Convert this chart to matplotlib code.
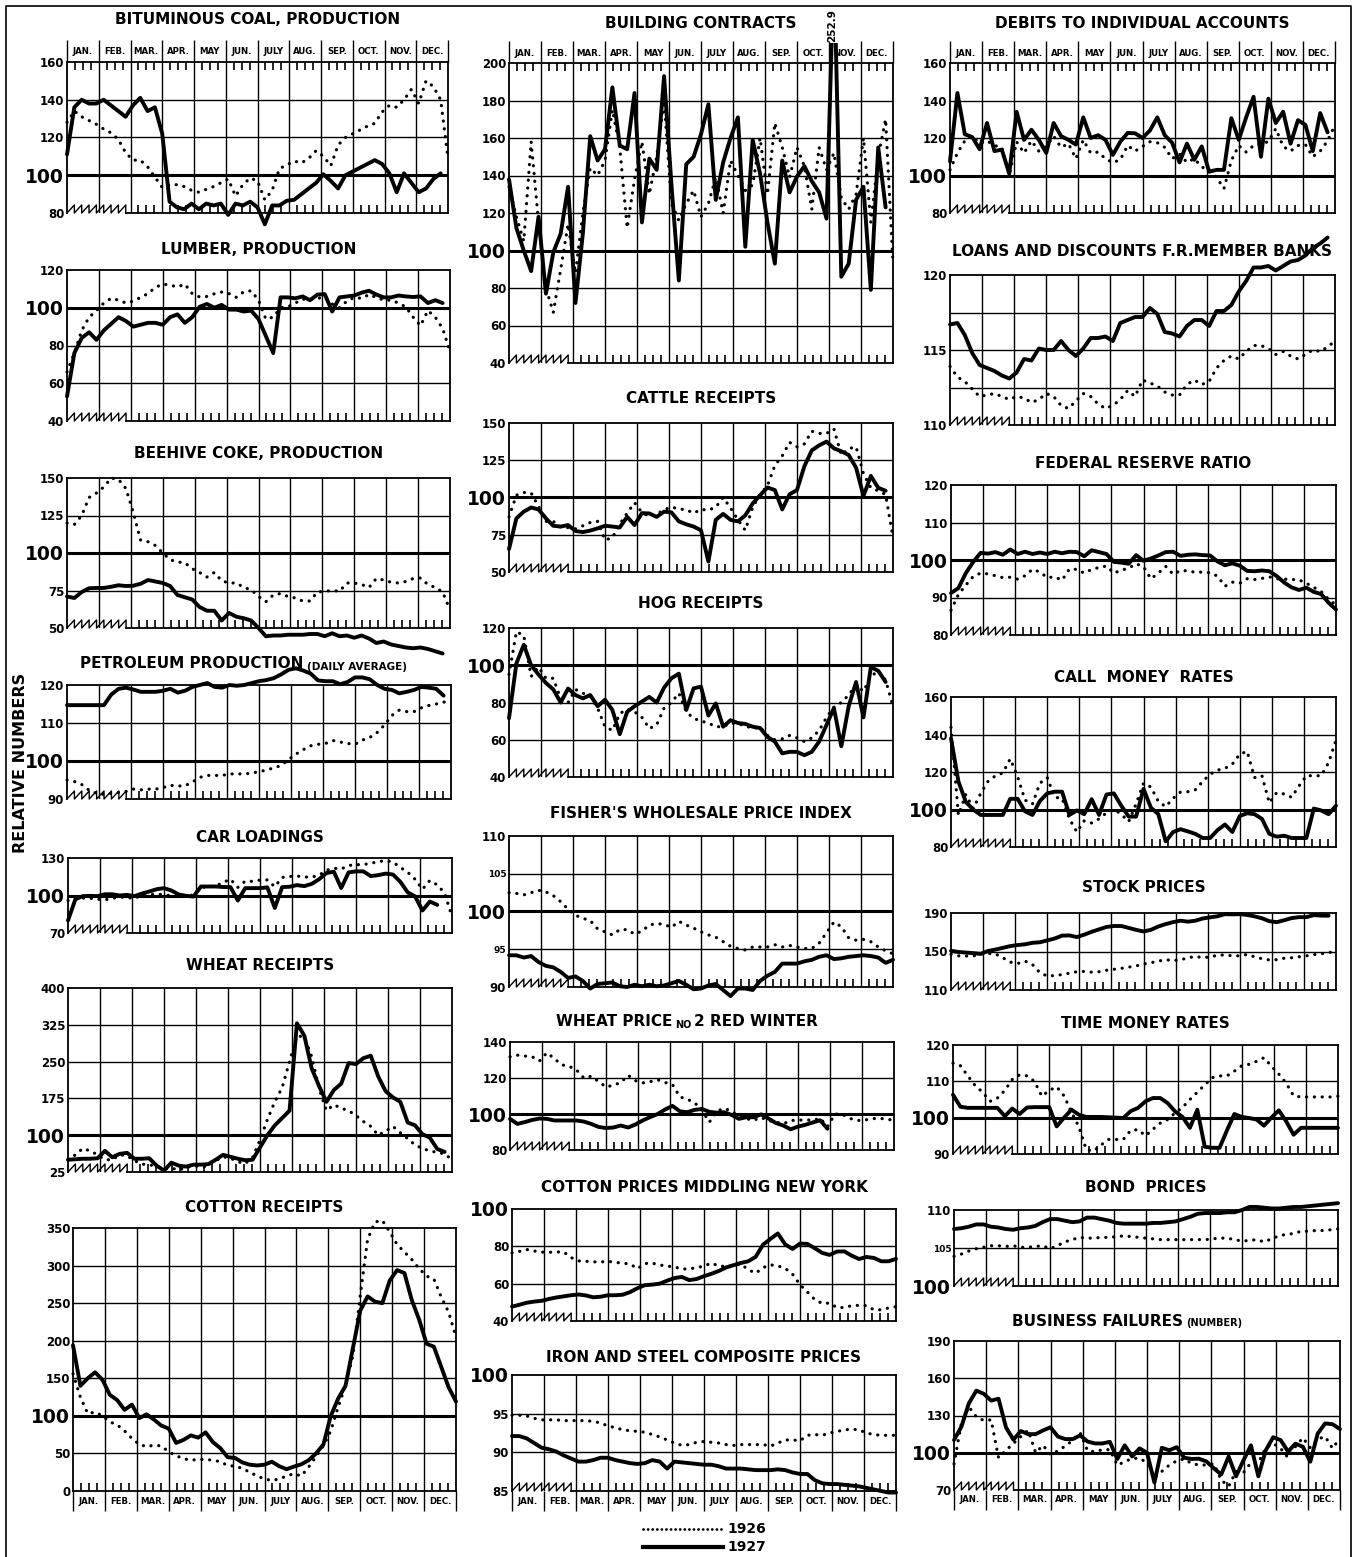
import numpy as np
import matplotlib
matplotlib.use('Agg')
import matplotlib.pyplot as plt
from matplotlib.transforms import Bbox, TransformedBbox

plt.rcParams['font.family'] = 'DejaVu Sans'
plt.rcParams['font.weight'] = 'bold'

W, H = 1359, 1557

months = ['JAN.', 'FEB.', 'MAR.', 'APR.', 'MAY', 'JUN.', 'JULY', 'AUG.', 'SEP.', 'OCT.', 'NOV.', 'DEC.']

# weekly relative numbers (1926 dotted, 1927 solid)
coal_1926 = [128, 134, 131, 129, 127, 124.5, 122.5, 119, 112, 108, 108, 104.5, 99, 93.5, 95, 95, 94, 92, 91, 92.5,
             94, 96, 98, 89, 95, 98.5, 97, 87, 92, 103.5, 105.5, 107.5, 106.5, 109, 113, 110, 105, 116, 120, 122,
             124, 126, 127.5, 133.5, 137, 136, 140, 145.5, 138, 150, 147, 140, 109]
coal_1927 = [111, 136, 140, 138, 138, 140, 137, 134, 131, 137, 141, 134, 136, 122, 86, 83, 82, 85, 82, 85,
             84, 85, 79, 85, 84, 86, 83, 74, 84, 84, 86.5, 87, 90, 93, 96, 100.5, 97, 93, 100, 102,
             104, 106, 108, 106, 101, 91, 101, 96, 91, 93, 98, 101]
lumber_1926 = [66, 76, 88, 95, 98.5, 102.5, 105, 104, 102.5, 103.5, 105.5, 107.5, 110.8, 112.5, 112, 111, 112.5,
               107.5, 105.7, 106, 107.4, 108.3, 107.5, 105.5, 108.5, 109, 104, 94, 95, 100, 100.5, 102.5, 104.5,
               104.5, 105, 105.5, 102, 100, 103.5, 105.5, 105, 107, 105.5, 104, 104, 102.5, 100.4, 95, 90.5,
               98.5, 95, 89, 77]
lumber_1927 = [53, 76, 84, 87, 83, 88, 91.5, 95, 93, 90, 91, 92, 92, 91, 95, 96.5, 92, 95, 100.5, 102,
               100, 101.5, 99, 99, 98, 98.5, 94, 85, 76, 105.5, 105.5, 105, 106, 104, 107, 107.2, 98, 105.5,
               106, 106.5, 108, 109, 107, 105.5, 105.5, 106.5, 106, 105.7, 106, 102.5, 104, 102.5]
coke_1926 = [120, 119, 125, 137, 140, 144, 150, 149, 143, 127, 108.5, 107.5, 105, 100, 95.5, 94, 93.5, 89.5, 87, 84,
             87, 81.5, 80, 80, 77, 75.5, 71, 67.5, 72, 73, 71, 70, 68, 68, 74, 74.5, 75, 74.5, 80, 80,
             79, 77, 83, 82, 80.5, 80, 81, 83, 83.3, 79, 77, 74, 62]
coke_1927 = [71, 70, 74, 76.5, 76.7, 76.7, 77.5, 78.5, 78, 78.2, 79.5, 82, 81, 80, 78, 72, 70.5, 69, 64, 61.5,
             61.5, 55, 60, 57.5, 56.5, 55, 50, 44.5, 45, 45, 45.5, 45.5, 45.5, 46, 46, 44.5, 46.5, 44.5, 45, 43.5,
             45, 43, 40, 41, 39, 38, 37, 36.5, 37, 36, 34.5, 33]
petro_1926 = [95, 94.6, 93.8, 92.3, 91.5, 91.2, 91.5, 91.7, 92, 92.6, 92.4, 92.6, 92.6, 93, 93.6, 93.4, 93.5, 94.5,
              95.7, 96.2, 96.2, 96.2, 96.6, 96.6, 96.6, 96.8, 97.2, 97.6, 98.2, 98.8, 100.4, 101.8, 103, 104, 104.4,
              104.6, 105.4, 105, 104.6, 104.4, 105.5, 106.2, 107.5, 109.5, 112, 113.4, 113, 113, 114, 114.6, 115,
              115.5, 115.6]
petro_1927 = [114.7, 114.7, 114.7, 114.7, 114.7, 114.7, 117.5, 119, 119.3, 118.8, 118.2, 118.2, 118.2, 118.5, 119,
              118, 118.5, 119.5, 120, 120.5, 119.5, 119.3, 120, 119.8, 120, 120.5, 121, 121.3, 121.8, 122.8, 124,
              124.4, 123.8, 123, 121.2, 121, 121, 120.2, 120.8, 122, 122, 121.5, 120, 119, 118.7, 117.8, 118.2,
              118.7, 119.5, 119.3, 119, 117.2]
car_1926 = [96, 97.5, 97.9, 97.8, 97, 96.5, 97.8, 98.7, 98.5, 97.5, 100.5, 100.5, 101.2, 100.6, 99.8, 99.7, 99.2,
            100.5, 106.2, 107.2, 107.5, 110.5, 113, 106.5, 111.5, 111.3, 112.3, 112.5, 107, 114.5, 115.2, 115.6,
            114.8, 114.7, 116.2, 120.2, 121.8, 121.2, 124, 124.7, 124.7, 125.8, 127, 128, 126.8, 122.5, 118.6, 113,
            105, 112, 108.5, 102, 83]
car_1927 = [80, 97, 99.5, 99.7, 99.5, 101, 101, 100, 100.5, 99.5, 101.5, 103.2, 105, 105.9, 104, 100.8, 99.7, 99.2,
            107.2, 107.2, 107.2, 106.8, 106.7, 96, 105.9, 105.9, 105.9, 106.5, 90, 106.7, 107, 108.3, 107.5, 109.3,
            113, 118, 119, 106, 118.5, 119.3, 119.3, 115.5, 116.3, 117.5, 116.8, 111, 102.5, 99.3, 88, 95.2, 92.5]
wheat_1926 = [50, 60, 73, 68, 60, 50, 50, 60, 58, 48, 41, 40, 36, 31, 33, 29, 34, 38, 35, 37, 48, 56, 53, 46, 42, 55,
              90, 132, 168, 197, 250, 303, 300, 260, 195, 150, 162, 155, 150, 140, 128, 118, 100, 108, 118, 105, 93,
              80, 73, 68, 65, 62, 50]
wheat_1927 = [50, 51, 52, 52, 53, 68, 55, 62, 64, 52, 52, 53, 38, 28, 44, 38, 36, 40, 40, 41, 50, 60, 56, 52, 49, 50,
              75, 100, 120, 135, 150, 328, 303, 236, 200, 168, 192, 205, 247, 245, 257, 262, 220, 190, 177, 168, 126,
              120, 102, 95, 72, 66]
cotton_1926 = [156, 125, 103, 105, 100, 92, 88, 80, 70, 62, 59, 61, 60, 52, 47, 43, 41, 42, 42, 41, 39, 34, 33, 30,
               25, 20, 16, 14, 16, 20, 23, 20, 32, 46, 60, 80, 112, 140, 180, 260, 335, 358, 360, 345, 328, 318, 308,
               296, 286, 282, 258, 238, 205]
cotton_1927 = [194, 140, 150, 158, 148, 128, 121, 108, 115, 97, 102, 95, 87, 83, 64, 68, 74, 71, 78, 65, 57, 45, 44,
               38, 35, 34, 35, 39, 33, 29, 32.5, 35.5, 41, 50, 62, 100, 123, 140, 190, 240, 259, 252, 250, 280, 294,
               290, 254, 228, 196, 192, 165, 138, 119]
build_1926 = [134, 118, 105, 158, 115, 80, 67, 90, 114, 88, 120, 144, 140, 148, 175, 155, 112, 138, 158, 130, 150,
              180, 125, 116, 125, 132, 118, 125, 139, 120, 148, 140, 132, 135, 160, 130, 168, 155, 139, 155, 145, 122,
              155, 143, 152, 128, 122, 130, 160, 115, 150, 170, 93]
build_1927 = [138, 112, 100, 89, 118, 77, 99, 109, 134, 72, 109, 161, 148, 154, 187, 156, 154, 184, 115, 149, 143,
              193, 135, 84, 146, 150, 162, 178, 127, 147, 160, 171, 102, 159, 141, 115, 93, 148, 131, 139.5, 145, 137,
              131, 117, 252.9, 86, 93, 127, 134, 79, 155, 123]
cattle_1926 = [87, 101.5, 103.4, 103, 94, 84, 84, 80, 79.8, 79, 81, 83.2, 84, 71.5, 73, 82.2, 89.5, 96.5, 90, 87.2,
               88.8, 91.8, 93.6, 92.3, 91.8, 89.5, 92, 91.5, 93.5, 100, 93, 85, 78, 93.5, 102, 108, 121.5, 128, 137,
               134, 136, 144.5, 143, 143, 146, 128.5, 132.8, 134, 116, 106.5, 104.5, 102, 73]
cattle_1927 = [65.4, 86, 90.5, 93.3, 92, 86, 81, 80.5, 81.5, 77.5, 76.8, 77.8, 79.3, 81, 80.5, 79.9, 87, 81.5, 89.5,
               89.3, 87, 90.5, 90, 84, 82, 80.5, 78, 57, 85, 89, 85, 84, 88, 96, 101.5, 106.7, 105, 92, 102.2, 105,
               121, 131.6, 135, 137.5, 133, 131, 128.5, 120, 101, 114.5, 106.5, 104.5]
hog_1926 = [95, 118, 116, 94, 99, 93, 93, 82, 80, 87, 85, 83.3, 77, 67, 65, 74, 76.5, 75, 72, 66, 68, 77, 80, 85, 75,
            71.5, 70, 69, 67, 67, 69, 68.5, 67.5, 66, 66.8, 62.3, 60, 60.5, 62.3, 61, 59, 61, 65, 72, 77.5, 80, 84,
            89.5, 86, 94, 97, 92, 78]
hog_1927 = [71.5, 101, 111, 100, 95, 90.5, 87, 80, 87.5, 84, 82.2, 84, 78, 81.5, 76, 63, 75, 78, 80.5, 83, 80, 88, 93,
            95.5, 76, 87.6, 88.5, 73, 79.5, 67, 70.5, 69, 68.5, 67, 66.3, 61.5, 59, 52.7, 53.5, 53.5, 51.7, 53.5, 59,
            68, 77, 56.5, 78, 91, 72, 99, 97, 91]
fisher_1926 = [102.5, 102.4, 102.2, 102.5, 102.8, 102.6, 102.1, 101.3, 100.3, 99.5, 99.1, 98.8, 97.7, 97.3, 96.9,
               97.6, 97.6, 97, 97.4, 98.2, 98.4, 98.3, 97.9, 98.7, 98.2, 97.8, 97.3, 96.9, 96.6, 96, 95.4, 95.1, 94.9,
               95.3, 95.3, 95.3, 95.6, 95.3, 95.5, 95.3, 95.1, 95.1, 95.8, 97.2, 98.6, 98, 96.5, 96.2, 96.3, 96, 95.3,
               94.8, 94.4]
fisher_1927 = [94.2, 94.2, 93.9, 94.1, 93.3, 92.8, 92.6, 92, 91.2, 91.4, 90.8, 89.8, 90.4, 90.5, 90.6, 90.1, 90, 90.3,
               90.1, 90.3, 90.1, 90.2, 90.5, 90.8, 90.3, 89.7, 89.8, 90.2, 90.4, 89.6, 88.8, 89.8, 89.8, 89.6, 90.8,
               91.5, 92, 93.1, 93.1, 93.1, 93.4, 93.6, 94, 94.2, 93.7, 93.8, 94, 94.1, 94.2, 94.1, 93.9, 93.2, 93.6]
wheatp_1926 = [131.8, 132.7, 132.2, 131.8, 129.5, 134, 130.8, 127.3, 126.5, 124.5, 120, 121, 118, 115, 116, 117.5,
               121.5, 118.5, 117.3, 118, 119, 117.5, 116.4, 109.5, 108.2, 106.3, 102, 95.5, 101.5, 103.2, 101.5, 98.8,
               97.4, 96.5, 98.1, 96.3, 95.5, 94.5, 96.4, 96.5, 96.8, 96.5, 97.6, 93, 100, 99.8, 97.6, 96.4, 96.6,
               97.4, 97.6, 97.2, 96.4]
wheatp_1927 = [97.3, 94.5, 95.5, 96.7, 97.5, 97.3, 96.4, 96.4, 96.4, 96.4, 95.8, 94.5, 92.8, 92.2, 92.5, 93.6, 92.5,
               94.2, 96.5, 98.3, 100, 102.5, 104.5, 101.5, 101, 102.3, 102.8, 101.2, 100.7, 101, 99.5, 97.3, 98.2,
               98.2, 99.8, 97.5, 95, 93.6, 91.5, 93, 94, 95.3, 96.5, 91.8]
cottonp_1926 = [76.5, 77.3, 78.3, 77.5, 76.9, 76.8, 77, 77, 74, 72.2, 72, 71.7, 71.6, 72, 71.4, 71, 70.5, 68, 70.8,
                71, 70, 69.4, 69, 67.8, 68, 68.5, 69.5, 71, 69.5, 69.2, 69.7, 70.5, 67.5, 65.6, 68.6, 70.1, 69.5,
                68.2, 65, 59.5, 55.5, 51.5, 49.4, 49.6, 47.2, 47.2, 48.2, 48.4, 48.2, 46, 46, 47, 47.7]
cottonp_1927 = [47.7, 48.7, 49.8, 50.4, 50.8, 51.8, 52.6, 53.2, 53.8, 54.2, 53.7, 52.7, 53, 53.8, 53.8, 54.1, 55.5,
                57.6, 59.2, 59.5, 60, 61.6, 63, 63.6, 61.9, 62.5, 64, 65.3, 66.8, 68.7, 69.9, 71.1, 72, 74.4, 80.9,
                84, 86.9, 81, 78.6, 81.5, 81.3, 79, 76.5, 75.4, 77.2, 77.3, 75, 73.2, 74.3, 73.8, 72, 72, 73.3]
iron_1926 = [94.8, 94.8, 94.7, 94.4, 94.2, 94.2, 94.2, 94.1, 94.1, 94.1, 94.1, 94, 93.8, 93.4, 93.2, 92.9, 92.8, 92.7,
             92.6, 92.3, 92, 91.6, 91.2, 90.9, 91, 91.3, 91.4, 91.3, 91.2, 91, 90.9, 91, 91, 91, 91, 90.8, 91.2, 91.6,
             91.6, 91.5, 92.2, 92.3, 92.2, 92.5, 92.7, 92.9, 93, 92.9, 92.5, 92.3, 92.2, 92.2, 92.2]
iron_1927 = [92.1, 92.1, 91.8, 91.2, 90.6, 90.4, 90.1, 89.6, 89.2, 88.8, 88.8, 89, 89.3, 89.3, 89, 88.8, 88.6, 88.5,
             88.6, 89, 88.8, 87.9, 88.8, 88.7, 88.6, 88.5, 88.4, 88.4, 88.2, 87.9, 87.9, 87.9, 87.8, 87.7, 87.7, 87.7,
             87.8, 87.7, 87.4, 87.2, 87.2, 86.4, 86, 85.9, 85.9, 85.8, 85.7, 85.6, 85.4, 85.2, 85, 84.8, 84.8]
debits_1926 = [103, 112, 118.5, 121, 117, 118.5, 116, 115, 100, 118, 112, 118.5, 113, 115.5, 121, 115, 117, 109, 119,
               112, 112.5, 109, 106.8, 108.5, 116, 113, 115.5, 118, 117.5, 115, 109, 111.5, 107, 109, 104.5, 103, 99,
               93, 108, 116, 112.5, 116, 117, 118, 125, 115.5, 113, 116, 116.5, 110, 113, 118.5, 127]
debits_1927 = [107.5, 144, 122, 120.5, 114, 128, 113, 113.8, 101, 134, 119, 124.4, 119, 112, 128, 121, 119, 116.5,
               131, 120, 121.5, 119, 111, 118, 122.7, 122.5, 120, 124, 131, 121.5, 117.5, 107, 117, 108.4, 115.5, 102,
               103, 103, 130.6, 119, 131, 142, 110, 141, 128, 134, 117, 129.5, 127, 113, 133.3, 123]
loans_1926 = [113.9, 113.2, 112.9, 112.4, 111.9, 112, 112.1, 111.9, 111.7, 111.9, 111.8, 111.5, 111.7, 112.1, 111.9,
              111.3, 111.1, 111.6, 112.1, 111.9, 111.4, 111.1, 111.3, 111.7, 112.3, 111.9, 113, 112.8, 112.6, 112.2,
              112, 112, 112.7, 113, 112.7, 112.9, 113.8, 114.3, 114.6, 114.4, 114.9, 115.3, 115.3, 115.1, 114.7,
              114.9, 114.6, 114.4, 114.7, 115, 114.9, 115.2, 115.6]
loans_1927 = [116.7, 116.8, 116, 114.8, 114, 113.8, 113.6, 113.3, 113.1, 113.5, 114.4, 114.3, 115.1, 115, 115, 115.6,
              115, 114.6, 115.1, 115.8, 115.8, 115.9, 115.6, 116.8, 117, 117.2, 117.2, 117.8, 117.4, 116.2, 116.1,
              115.9, 116.6, 117, 117, 116.6, 117.6, 117.6, 118, 118.9, 119.6, 120.5, 120.5, 120.6, 120.3, 120.6,
              120.9, 121, 121.3, 121.8, 122.1, 122.5]
frr_1926 = [86.6, 90.8, 93.3, 95.6, 96.5, 96.3, 95.8, 95.3, 95.4, 94.9, 95.8, 97.5, 96.8, 95.3, 95.5, 94.6, 97.6, 97.5,
            96.5, 97.5, 98, 98.4, 96.5, 97.3, 97.8, 99, 98.2, 95, 96.5, 98.3, 96.2, 97.2, 97.1, 96.7, 96.8, 96.6, 95.7,
            93, 94.1, 93.8, 95, 94.8, 95.1, 95.5, 95, 94.9, 94.8, 94.7, 93.8, 92.7, 91.6, 89.5, 88]
frr_1927 = [91.2, 92.5, 96.5, 99.5, 101.9, 101.7, 102.1, 101.4, 102.8, 101.6, 102.2, 101.6, 102, 101.6, 102.2, 101.8,
            102.2, 102.1, 101, 102.6, 102.1, 101.6, 99.5, 99.3, 99, 101.3, 99.8, 100.4, 101.2, 102.1, 102.2, 101.1,
            101.4, 101.5, 101.3, 101.2, 99.6, 98.6, 99.1, 98.5, 97.1, 97, 97.2, 97, 95.7, 94, 92.7, 92, 92.6, 91.5,
            90.9, 88.6, 86.8]
call_1926 = [143.8, 97, 108, 100.5, 108.5, 115, 118, 119.5, 127, 117.5, 105, 102.9, 114, 117, 106.5, 106, 95, 88, 94,
             92.8, 95, 98.2, 100, 97.5, 93.5, 103, 114, 112, 104.3, 101.5, 106, 109.3, 109.5, 110.5, 115, 118.8, 121,
             121.9, 124.2, 129.5, 131, 117, 118, 103.5, 109, 108.3, 106.5, 112.5, 118, 118, 118, 125, 137]
call_1927 = [138, 115, 104, 100, 97.1, 97.1, 97.1, 97.1, 105.7, 105.7, 99, 97.1, 104.5, 108.6, 109.5, 109.5, 97.1,
             99.5, 97.5, 105.5, 97.1, 108, 108.6, 102, 96.2, 96.2, 111, 101, 97.5, 83, 88, 89.5, 88.3, 87, 84.8,
             84.8, 89, 92, 88, 96.5, 98, 97.5, 95, 87, 85.5, 86, 84.8, 84.8, 84.8, 100.5, 99.5, 97.5, 102]
stock_1926 = [147.1, 145.5, 145.3, 145.3, 147.5, 148, 147.5, 143.5, 139, 137.5, 140, 136.5, 128, 124.5, 125, 126,
              127.5, 129, 129.3, 128.5, 129, 130.5, 131.5, 132.5, 133.8, 135, 137, 138.3, 140, 141.5, 140.5, 141.5,
              143.3, 145, 143.5, 144.5, 146, 146.5, 145.5, 145.5, 147, 144.5, 142.5, 141.2, 141.5, 143, 143.5,
              144.5, 145.5, 146.7, 147.7, 148.8, 150.5]
stock_1927 = [150.7, 149.5, 148.9, 148.3, 147.5, 150.5, 152, 153.8, 155.6, 156.7, 157.5, 159, 159.6, 161.5, 163.5,
              166.5, 166.7, 165, 167.5, 170.5, 173, 175.5, 176.5, 176.5, 174.5, 172.5, 170.8, 172.5, 176, 178.5,
              180.5, 182, 181, 182, 184.3, 185.5, 186.6, 188.8, 188.6, 188.8, 188, 186.5, 184.5, 181.5, 180.5,
              182.5, 184.7, 185.7, 185.7, 187.8, 187.3, 187.2]
time_1926 = [115, 114.3, 111.5, 108.8, 107, 104.5, 105.4, 107.5, 110.5, 111.8, 111.5, 110, 105.9, 107.5, 108.5, 106,
             101.5, 97.5, 91.2, 90.8, 92.5, 94, 94, 94, 96.5, 96.7, 95, 96.8, 98.5, 99.5, 101.3, 102.8, 105, 107, 109,
             111, 111.5, 111.5, 112.8, 114.3, 114.7, 115.5, 116.5, 114.2, 112, 109.5, 106, 105.7, 105.7, 105.7,
             105.7, 105.7, 105.9]
time_1927 = [106.3, 103, 102.7, 102.7, 102.7, 102.7, 102.7, 100.4, 102.5, 101, 102.8, 102.9, 102.9, 102.9, 97.6, 100,
             102.2, 100.8, 100.2, 100.2, 100.2, 100.1, 100, 99.9, 101.8, 102.7, 104.5, 105.4, 105.4, 104, 101.7,
             100.2, 97.2, 102.2, 92, 91.7, 91.7, 96.5, 101, 100.2, 99.9, 99.5, 97.8, 100, 102, 99, 95.3, 97.2, 97.2,
             97.2, 97.2, 97.2, 97.2]
bond_1926 = [103.9, 104.2, 104.6, 104.9, 105.1, 105.3, 105.3, 105.2, 105.3, 105.1, 105.1, 105.2, 105.3, 104.9, 105.3,
             105.8, 106.1, 106.4, 106.3, 106.3, 106.4, 106.4, 106.5, 106.6, 106.5, 106.4, 106.3, 106.2, 106.1, 106.1,
             106.1, 106.1, 106.1, 106.1, 106.1, 106.2, 106.3, 106.3, 106.1, 105.9, 106, 106.1, 105.8, 106.2, 106.6,
             106.8, 106.9, 107.2, 107.2, 107.3, 107.3, 107.4, 107.5]
bond_1927 = [107.5, 107.6, 107.8, 108.1, 108.1, 107.8, 107.7, 107.5, 107.4, 107.6, 107.7, 107.9, 108.4, 108.8, 108.8,
             108.6, 108.4, 108.5, 109, 109, 108.8, 108.6, 108.3, 108.2, 108.2, 108.2, 108.2, 108.3, 108.3, 108.4,
             108.5, 108.8, 109.1, 109.5, 109.6, 109.6, 109.6, 109.7, 109.7, 110, 110.4, 110.4, 110.3, 110.2, 110.2,
             110.3, 110.4, 110.4, 110.5, 110.6, 110.7, 110.8, 110.9]
fail_1926 = [91, 124, 137, 129, 126, 126.5, 96, 102, 107.5, 113, 118, 100, 106, 98.5, 101.5, 105.5, 110, 116, 101.5,
             100.8, 102.5, 102.5, 90, 92.8, 95.5, 95.5, 92, 80, 85, 90, 93.5, 95, 91.4, 90.1, 90.1, 91.2, 78, 73, 85,
             84, 92, 92, 104, 107.5, 103.5, 96, 105, 112, 104, 111, 113, 103.5, 112]
fail_1927 = [110.2, 121, 139.7, 150, 147.5, 142, 143.5, 120.5, 110.5, 117.5, 115, 115, 118, 120.5, 113, 111, 111, 114,
             109, 107.5, 107.5, 108.8, 95, 106, 97, 103.5, 100, 76, 104, 102, 104.5, 96, 95, 95.2, 93, 87.5, 82.5,
             97, 81, 94, 106, 81, 102, 112.5, 110.2, 101, 107.3, 104.8, 92.8, 115.5, 123.6, 123, 119]

fig = plt.figure(figsize=(W / 100, H / 100), dpi=100)
bg = fig.add_axes([0, 0, 1, 1])
bg.set_xlim(0, W)
bg.set_ylim(H, 0)
bg.axis('off')


def panel(box, yticks, d26, d27, title, title_y, months_at=None, zigzag=True, extra=(), small=(),
          clip_top=60, title_parts=None, title_x=0.5):
    l, t, r, b = box
    hp = b - t
    ax = fig.add_axes([l / W, 1 - b / H, (r - l) / W, hp / H])
    ax.set_xlim(0, 12)
    ax.set_ylim(yticks[0], yticks[-1])
    ax.patch.set_visible(False)
    for s in ax.spines.values():
        s.set_linewidth(1.3)
    ax.spines['bottom'].set_visible(False)
    ax.set_xticks([])
    ax.set_yticks(yticks)
    ax.set_yticklabels([str(v) for v in yticks])
    ax.tick_params(axis='y', length=0, pad=2)
    for lab, v in zip(ax.get_yticklabels(), yticks):
        lab.set_fontweight('bold')
        lab.set_fontsize(13.5 if v == 100 else (6.5 if v in small else 8.5))

    xt = ax.get_xaxis_transform()
    ax.vlines(range(1, 12), 0, 1, transform=xt, color='k', lw=1.0)
    for v in list(yticks[1:-1]) + list(extra):
        ax.axhline(v, color='k', lw=2.2 if v == 100 else 1.0)

    # bottom edge: broken-axis squiggle then weekly ticks
    th = 8 / hp
    start = 1.85 if zigzag else 0
    ax.plot([start, 12], [0, 0], transform=xt, color='k', lw=1.3, clip_on=False)
    if zigzag:
        n = 8
        d = start / n
        zx, zy = [], []
        for k in range(n):
            zx += [k * d, (k + 1) * d, (k + 1) * d]
            zy += [0, th, 0]
        ax.plot(zx, zy, transform=xt, color='k', lw=1.0, clip_on=False)
    xs = [m + f for m in range(2 if zigzag else 0, 12) for f in (0.25, 0.5, 0.75)]
    ax.vlines(xs, 0, th, transform=xt, color='k', lw=1.2)

    if months_at == 'top':
        ax.vlines(range(0, 13), 1, 1 + 22 / hp, transform=xt, color='k', lw=1.0, clip_on=False)
        xs_all = [m + f for m in range(12) for f in (0.25, 0.5, 0.75)]
        ax.vlines(xs_all, 1 - th, 1, transform=xt, color='k', lw=1.2)
        for m, name in enumerate(months):
            ax.text(m + 0.5, 1 + 10 / hp, name, transform=xt, ha='center', va='center',
                    fontsize=6.2, fontweight='bold')
    elif months_at == 'bottom':
        ax.vlines(range(0, 13), -20 / hp, 0, transform=xt, color='k', lw=1.0, clip_on=False)
        for m, name in enumerate(months):
            ax.text(m + 0.5, -10 / hp, name, transform=xt, ha='center', va='center',
                    fontsize=6.2, fontweight='bold')

    x26 = np.arange(len(d26)) * 12 / 52
    x27 = np.arange(len(d27)) * 12 / 52
    clip = TransformedBbox(Bbox([[-0.02, -60 / hp], [1.02, 1 + clip_top / hp]]), ax.transAxes)
    lines = ax.plot(x26, d26, color='k', lw=2.3, ls=(0, (0.05, 2.4)), dash_capstyle='round')
    lines += ax.plot(x27, d27, color='k', lw=2.8, solid_joinstyle='round', solid_capstyle='round')
    for ln in lines:
        ln.set_clip_box(clip)

    ty = (b - title_y) / hp
    if title_parts is None:
        ax.text(0.5, ty, title, transform=ax.transAxes, ha='center', va='center',
                fontsize=11, fontweight='bold')
    else:
        prev = ax.text(title_x, ty, title, transform=ax.transAxes, ha='left', va='center',
                       fontsize=11, fontweight='bold')
        for txt, size in title_parts:
            prev = ax.annotate(txt, xy=(1, 0), xycoords=prev, xytext=(2, 0), textcoords='offset points',
                               ha='left', va='bottom', fontsize=size, fontweight='bold')
    return ax


# left column
panel((67, 62, 448, 213), [80, 100, 120, 140, 160], coal_1926, coal_1927,
      'BITUMINOUS COAL, PRODUCTION', 20, months_at='top')
panel((67, 270, 450, 421), [40, 60, 80, 100, 120], lumber_1926, lumber_1927,
      'LUMBER, PRODUCTION', 249)
panel((67, 478, 450, 628), [50, 75, 100, 125, 150], coke_1926, coke_1927,
      'BEEHIVE COKE, PRODUCTION', 454)
panel((67, 685, 451, 799), [90, 100, 110, 120], petro_1926, petro_1927,
      'PETROLEUM PRODUCTION', 664, title_parts=[('(DAILY AVERAGE)', 7.5)], title_x=0.035)
panel((68, 858, 452, 933), [70, 100, 130], car_1926, car_1927,
      'CAR LOADINGS', 837)
panel((68, 988, 452, 1172), [25, 100, 175, 250, 325, 400], wheat_1926, wheat_1927,
      'WHEAT RECEIPTS', 965)
panel((73, 1228, 456, 1491), [0, 50, 100, 150, 200, 250, 300, 350], cotton_1926, cotton_1927,
      'COTTON RECEIPTS', 1207, months_at='bottom', zigzag=False)

# middle column
panel((509, 63, 893, 363), [40, 60, 80, 100, 120, 140, 160, 180, 200], build_1926, build_1927,
      'BUILDING CONTRACTS', 24, months_at='top', clip_top=20)
panel((509, 423, 893, 572), [50, 75, 100, 125, 150], cattle_1926, cattle_1927,
      'CATTLE RECEIPTS', 399)
panel((509, 628, 893, 777), [40, 60, 80, 100, 120], hog_1926, hog_1927,
      'HOG RECEIPTS', 604)
panel((509, 836, 893, 987), [90, 95, 100, 105, 110], fisher_1926, fisher_1927,
      "FISHER'S WHOLESALE PRICE INDEX", 814, small=(95, 105))
panel((510, 1042, 894, 1150), [80, 100, 120, 140], wheatp_1926, wheatp_1927,
      'WHEAT PRICE', 1022, title_parts=[('NO', 7), ('2 RED WINTER', 11)], title_x=0.12)
panel((512, 1209, 896, 1321), [40, 60, 80, 100], cottonp_1926, cottonp_1927,
      'COTTON PRICES MIDDLING NEW YORK', 1187)
panel((512, 1375, 896, 1491), [85, 90, 95, 100], iron_1926, iron_1927,
      'IRON AND STEEL COMPOSITE PRICES', 1357, months_at='bottom')

# right column
panel((950, 63, 1335, 213), [80, 100, 120, 140, 160], debits_1926, debits_1927,
      'DEBITS TO INDIVIDUAL ACCOUNTS', 24, months_at='top')
panel((950, 275, 1335, 425), [110, 115, 120], loans_1926, loans_1927,
      'LOANS AND DISCOUNTS F.R.MEMBER BANKS', 252, extra=(112.5, 117.5))
panel((951, 485, 1336, 635), [80, 90, 100, 110, 120], frr_1926, frr_1927,
      'FEDERAL RESERVE RATIO', 464)
panel((951, 697, 1336, 847), [80, 100, 120, 140, 160], call_1926, call_1927,
      'CALL  MONEY  RATES', 677)
panel((951, 913, 1336, 990), [110, 150, 190], stock_1926, stock_1927,
      'STOCK PRICES', 888)
panel((953, 1045, 1338, 1154), [90, 100, 110, 120], time_1926, time_1927,
      'TIME MONEY RATES', 1024)
panel((954, 1210, 1338, 1286), [100, 105, 110], bond_1926, bond_1927,
      'BOND  PRICES', 1188, small=(105,))
panel((954, 1341, 1340, 1490), [70, 100, 130, 160, 190], fail_1926, fail_1927,
      'BUSINESS FAILURES', 1321, months_at='bottom', title_parts=[('(NUMBER)', 7)], title_x=0.15)

# frame, side label, notes and legend
bg.plot([6, 6, 1351, 1351], [H, 6, 6, H], color='k', lw=1.2)
bg.text(21, 763, 'RELATIVE NUMBERS', rotation=90, ha='center', va='center', fontsize=11.5, fontweight='bold')
bg.text(832, 26, '252.9', rotation=90, ha='center', va='center', fontsize=7.5, fontweight='bold')
bg.plot([643, 723], [1529, 1529], color='k', lw=2.0, ls=(0, (0.05, 1.6)), dash_capstyle='round')
bg.text(727, 1529, '1926', ha='left', va='center', fontsize=10, fontweight='bold')
bg.plot([643, 723], [1547, 1547], color='k', lw=3.0)
bg.text(727, 1547, '1927', ha='left', va='center', fontsize=10, fontweight='bold')

fig.savefig('out.png', dpi=100)
